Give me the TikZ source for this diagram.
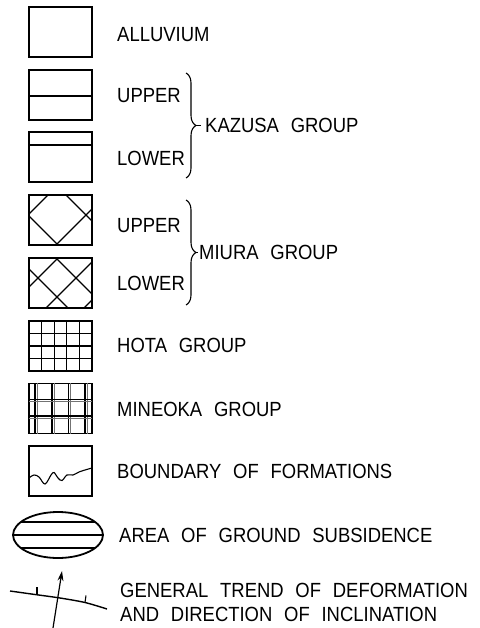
\documentclass[tikz,border=0pt]{standalone}
\usepackage{fontspec}
\newfontfamily\lblfont[FakeStretch=0.9,WordSpace=2.3]{Liberation Sans}
\usetikzlibrary{decorations.pathreplacing,arrows.meta,shapes.geometric}
\begin{document}
\begin{tikzpicture}[x=1pt,y=-1pt,
  frame/.style={draw, line width=1.6pt, minimum width=63pt, minimum height=50pt, inner sep=0pt, outer sep=0pt},
  pat/.style={line width=1.1pt},
  patg/.style={line width=0.9pt, black!55},
  lbl/.style={anchor=base west, inner sep=0pt, font=\lblfont\fontsize{20.5}{22}\selectfont},
  grpbrace/.style={decorate, decoration={brace, amplitude=10pt}, line width=1.1pt}]
\useasboundingbox (0,0) rectangle (479,628);

% boxes
\node[frame] (b1) at (60.5,32) {};
\node[frame] (b2) at (60.5,95) {};
\node[frame] (b3) at (60.5,157) {};
\node[frame] (b4) at (60.5,220) {};
\node[frame] (b5) at (60.5,283) {};
\node[frame] (b6) at (60.5,346) {};
\node[frame] (b7) at (60.5,408.5) {};
\node[frame] (b8) at (60.5,471) {};

% upper kazusa
\draw[pat] (29,96) -- (92,96);
% lower kazusa
\draw[pat] (29,145) -- (92,145);

% upper miura: sparse diagonal lattice
\begin{scope}
\clip (29,195) rectangle (92,245);
\foreach \d in {243,301} \draw[pat] (\d-190,190) -- (\d-250,250);
\foreach \c in {129,187} \draw[pat] (190-\c,190) -- (250-\c,250);
\end{scope}
% lower miura: dense diagonal lattice
\begin{scope}
\clip (29,258) rectangle (92,308);
\foreach \d in {278,316,354,392} \draw[pat] (\d-250,250) -- (\d-315,315);
\foreach \c in {164,202,240,278} \draw[pat] (250-\c,250) -- (315-\c,315);
\end{scope}

% hota grid
\foreach \x in {41.6,54.2,66.8,79.4} \draw[pat] (\x,321) -- (\x,371);
\foreach \y in {333.5,346,358.5} \draw[pat] (29,\y) -- (92,\y);

% mineoka double grid
\foreach \x in {35,52,68.5,85} {
  \draw[pat] (\x,383) -- (\x,434);
  \draw[patg] (\x+2.4,383) -- (\x+2.4,434);
}
\foreach \y in {399.5,416} {
  \draw[pat] (29,\y) -- (92,\y);
  \draw[patg] (29,\y+2.4) -- (92,\y+2.4);
}

% boundary wave
\draw[pat] plot[smooth, tension=0.6] coordinates {(29,478) (34,475) (39,477) (45,484) (51,475) (54,472.5) (58,478) (62,480.5) (67,475) (73,475) (79,472) (85,470) (92,468)};

% ellipse
\node[draw, ellipse, line width=1.8pt, minimum width=90pt, minimum height=46pt, inner sep=0pt] (el) at (58,535) {};
\begin{scope}
\clip (58,535) ellipse [x radius=45pt, y radius=23pt];
\foreach \y in {522,535,548} \draw[pat] (10,\y) -- (110,\y);
\end{scope}

% trend symbol
\coordinate (tl) at (10,591);
\coordinate (tr) at (107,609);
\coordinate (t1) at (37,594.5);
\coordinate (t1e) at (37,587);
\coordinate (t2) at (85,602.5);
\coordinate (t2e) at (86,595.5);
\coordinate (as) at (53,628);
\coordinate (ae) at (62,571);
\draw[line width=1.4pt] plot[smooth] coordinates {(tl) (35,594.5) (60,598) (85,602.5) (tr)};
\draw[pat] (t1) -- (t1e);
\draw[pat] (t2) -- (t2e);
\draw[line width=1.2pt, -{Stealth[length=10pt,width=6pt]}] (as) -- (ae);

% braces
\coordinate (kt) at (186,73);
\coordinate (kb) at (186,178);
\coordinate (mt) at (186,200);
\coordinate (mb) at (186,305);
\draw[grpbrace] (kt) -- (kb);
\draw[grpbrace] (mt) -- (mb);
\draw[line width=1.1pt] (196,125.5) -- (201,125.5);
\draw[line width=1.1pt] (196,252.5) -- (198,252.5);

% labels
\node[lbl] (l1) at (117,41.5) {ALLUVIUM};
\node[lbl] (l2) at (117,103) {UPPER};
\node[lbl] (l3) at (117,166) {LOWER};
\node[lbl] (l4) at (205,132.5) {KAZUSA GROUP};
\node[lbl] (l5) at (117,232) {UPPER};
\node[lbl] (l6) at (117,290) {LOWER};
\node[lbl] (l7) at (199,259.5) {MIURA GROUP};
\node[lbl] (l8) at (117,352) {HOTA GROUP};
\node[lbl] (l9) at (117,416.5) {MINEOKA GROUP};
\node[lbl] (l10) at (117,478) {BOUNDARY OF FORMATIONS};
\node[lbl] (l11) at (119,542.5) {AREA OF GROUND SUBSIDENCE};
\node[lbl] (l12) at (120,597) {GENERAL TREND OF DEFORMATION};
\node[lbl] (l13) at (120,621.5) {AND DIRECTION OF INCLINATION};
\end{tikzpicture}
\end{document}
